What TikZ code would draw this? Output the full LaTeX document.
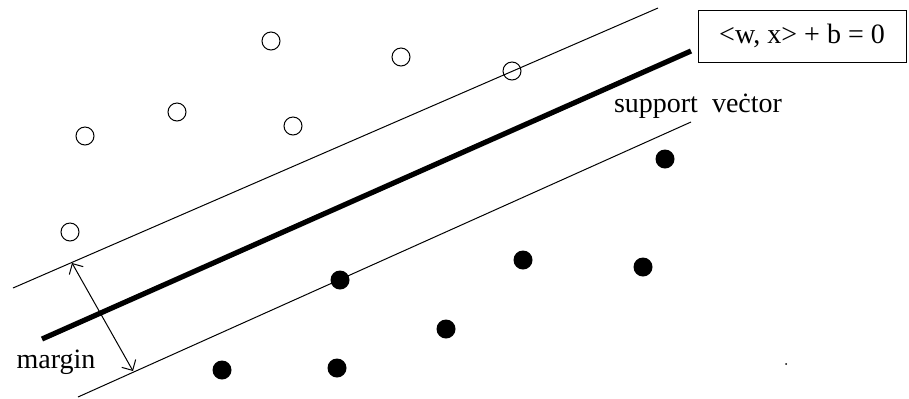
\documentclass[tikz,border=0pt]{standalone}
\usepackage{fontspec}
\setmainfont{Liberation Serif}
\usetikzlibrary{arrows.meta,calc,positioning}
\definecolor{SvmInk}{HTML}{000000}

\begin{document}
\begin{tikzpicture}[x=0.5pt,y=-0.5pt,
    openpt/.style={circle,draw=SvmInk,line width=0.5pt,
      minimum size=9pt,inner sep=0pt},
    fullpt/.style={circle,fill=SvmInk,minimum size=9.5pt,inner sep=0pt},
    thinline/.style={SvmInk,line width=0.5pt},
    label/.style={text=SvmInk,font=\fontsize{14}{16}\selectfont}]
        \useasboundingbox (0,0) rectangle (909,398);

        % margin lines and the separating line
        \coordinate (up0) at (13,288);
        \coordinate (up1) at (658,8);
        \coordinate (lo0) at (78,397);
        \coordinate (lo1) at (691,122);
        \coordinate (mid0) at (42,339);
        \coordinate (mid1) at (691,51);
        \draw[thinline] (up0) -- (up1);
        \draw[thinline] (lo0) -- (lo1);
        \draw[SvmInk,line width=2.6pt] (mid0) -- (mid1);

        % class +1 (open) and class -1 (filled)
        \foreach \px/\py [count=\i] in {271/41,401/57,512/71,177/112,
          293/126,85/136,70/232}{
          \node[openpt] (o\i) at (\px,\py) {};
        }
        \foreach \px/\py [count=\i] in {665/159,523/260,643/267,340/280,
          446/329,222/370,337/368}{
          \node[fullpt] (f\i) at (\px,\py) {};
        }
        \node[circle,fill=SvmInk,minimum size=1pt,inner sep=0pt] (speck) at (786,364) {};

        % margin arrow
        \coordinate (mtop) at (72,263);
        \coordinate (mbot) at (133,371);
        \draw[thinline,{Straight Barb[length=4pt]}-{Straight Barb[length=4pt]}]
          (mtop) -- (mbot);

        \node[label,draw=SvmInk,line width=0.5pt,minimum width=104pt,
          minimum height=26pt] (eqn) at (802,36) {<w, x> + b = 0};
        \node[label] (svlab) at (698,106) {support\ \ veċtor};
        \node[label] (mlab) at (56,362) {margin};
      \end{tikzpicture}
\end{document}
